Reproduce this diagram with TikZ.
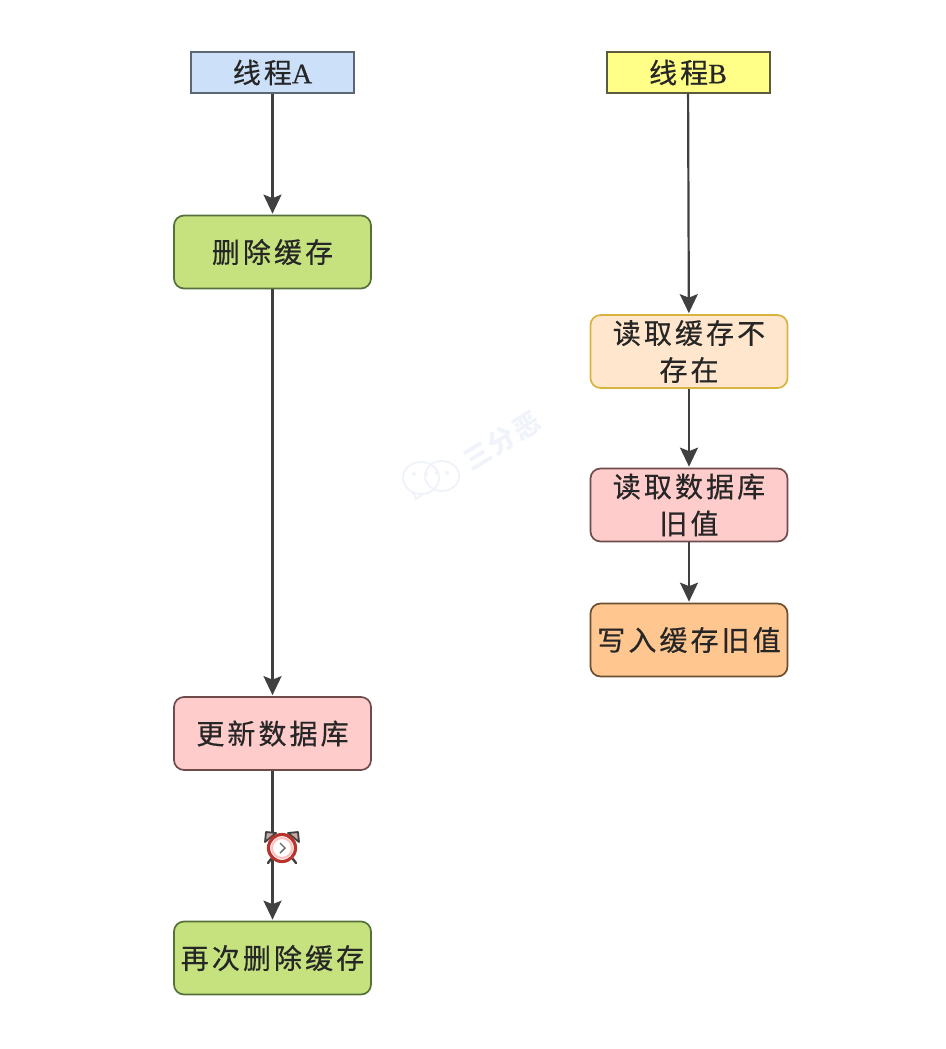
\documentclass[tikz,border=0pt]{standalone}
\usepackage{fontspec}
\usetikzlibrary{arrows.meta}
\newfontfamily\cjkbody[LetterSpace=11,FakeBold=0.5]{Noto Sans CJK SC}
\newfontfamily\cjkplain[LetterSpace=6]{Noto Sans CJK SC}
\newfontfamily\latinpart[FakeBold=0.4]{Liberation Serif}
\definecolor{linegray}{HTML}{404040}
\definecolor{headA}{HTML}{CCE1F9}
\definecolor{headAline}{HTML}{5A6875}
\definecolor{headB}{HTML}{FFFF88}
\definecolor{headBline}{HTML}{5C5C3C}
\definecolor{greenfill}{HTML}{C5E27F}
\definecolor{greenline}{HTML}{55703A}
\definecolor{pinkfill}{HTML}{FFCCCC}
\definecolor{pinkline}{HTML}{6E4C4C}
\definecolor{creamfill}{HTML}{FFE6CC}
\definecolor{creamline}{HTML}{D9B340}
\definecolor{orangefill}{HTML}{FFC68F}
\definecolor{orangeline}{HTML}{6B5030}
\definecolor{redclock}{HTML}{B8342C}
\definecolor{earfill}{HTML}{C9A9A6}
\definecolor{wmark}{HTML}{F0F4FA}
\tikzset{
  x=1pt,y=-1pt,
  headbox/.style={draw,line width=2pt,minimum width=163pt,minimum height=40pt,inner sep=0pt,font=\fontsize{28}{32}\selectfont\cjkbody,text=black!85},
  stepbox/.style={draw,line width=1.7pt,rounded corners=10pt,minimum width=197pt,minimum height=73pt,inner sep=0pt,align=center,font=\fontsize{28}{37}\selectfont\cjkbody,text=black!85},
  link/.style={draw=linegray,line width=2.2pt,-{Stealth[length=19pt,width=18pt,inset=3.5pt]},shorten >=1pt},
}
\begin{document}
\begin{tikzpicture}
\useasboundingbox (0,0) rectangle (945,1049);
% watermark
\begin{scope}[draw=wmark,line width=2pt]
  \draw (421,478) circle[x radius=18,y radius=16];
  \draw (442,476) circle[x radius=17,y radius=15];
  \draw (413,492) -- (416,499) -- (423,494);
  \fill[wmark] (414,474) circle[radius=2] (426,474) circle[radius=2] (437,473) circle[radius=2] (447,473) circle[radius=2];
\end{scope}
\node (mark) [rotate=32,text=wmark,font=\fontsize{27}{30}\selectfont\bfseries\cjkplain] at (502,441) {三分恶};
% nodes
\node (a0) [headbox,draw=headAline,fill=headA] at (272.5,72.5) {\raisebox{1pt}{线程{\latinpart A}}};
\node (a1) [stepbox,draw=greenline,fill=greenfill] at (272.5,252) {\raisebox{-1pt}{删除缓存}};
\node (a2) [stepbox,draw=pinkline,fill=pinkfill] at (272.5,733.5) {更新数据库};
\node (a3) [stepbox,draw=greenline,fill=greenfill] at (272.5,958) {\raisebox{-1pt}{再次删除缓存}};
\node (b0) [headbox,draw=headBline,fill=headB] at (688,72.5) {\raisebox{1pt}{线程{\latinpart B}}};
\node (b1) [stepbox,draw=creamline,fill=creamfill] at (689,351.5) {\raisebox{-2pt}{读取缓存不}\\\raisebox{-2pt}{存在}};
\node (b2) [stepbox,draw=pinkline,fill=pinkfill] at (689,505) {\raisebox{-2pt}{读取数据库}\\\raisebox{-2pt}{旧值}};
\node (b3) [stepbox,draw=orangeline,fill=orangefill] at (689,640) {\raisebox{-1pt}{写入缓存旧值}};
% connectors
\draw[link] (a0) -- (a1);
\draw[link] (a1) -- (a2);
\draw[link] (a2) -- (a3);
\draw[link] (b0) -- (b1);
\draw[link] (b1) -- (b2);
\draw[link] (b2) -- (b3);
% alarm clock
\begin{scope}[shift={(282,848)}]
  \draw[black!75,line width=1.8pt,fill=earfill,line join=round] (-17,-6) -- (-16,-16) -- (-6,-15) -- cycle;
  \draw[black!75,line width=1.8pt,fill=earfill,line join=round] (17,-6) -- (16,-16) -- (6,-15) -- cycle;
  \draw[black!75,line width=2.4pt,line cap=round] (-11,11) -- (-14,15) (11,11) -- (14,15);
  \draw[redclock,line width=3.2pt,fill=white] (0,0) circle[radius=13.5];
  \draw[pink,line width=2pt] (0,0) circle[radius=10];
  \draw[black!60,line width=1.4pt] (-2,-5) -- (3,0) -- (-2,5);
\end{scope}
\end{tikzpicture}
\end{document}
